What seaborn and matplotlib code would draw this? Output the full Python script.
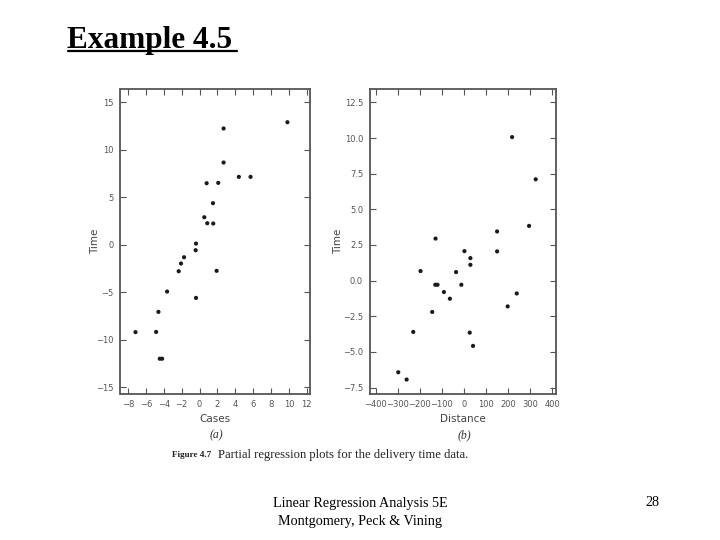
import matplotlib
matplotlib.use("Agg")
import matplotlib.pyplot as plt
import seaborn as sns
import pandas as pd
from matplotlib.lines import Line2D

sns.set_theme(style="white")
plt.rcParams['font.family'] = ['DejaVu Sans']

# Panel (a): partial regression of Time on Cases
cases_x = [-7.18, -4.87, -4.61, -4.46, -4.20, -3.64, -2.34, -2.08, -1.74, -0.40,
           -0.44, -0.40, 0.53, 0.86, 1.53, 1.50, 0.79, 2.09, 1.91, 2.69,
           2.69, 4.40, 5.71, 9.84]
cases_y = [-9.20, -9.18, -7.07, -12.0, -12.0, -4.93, -2.79, -1.98, -1.32, 0.12,
           -0.58, -5.60, 2.89, 2.26, 2.23, 4.37, 6.47, 6.51, -2.75, 8.65,
           12.23, 7.14, 7.14, 12.89]

# Panel (b): partial regression of Time on Distance
dist_x = [-298, -260, -230, -197, -144, -129, -130, -120, -91, -64,
          -36, -12, 2, 29, 29, 26, 41, 150, 150, 198,
          239, 218, 295, 325]
dist_y = [-6.43, -6.94, -3.60, 0.67, -2.20, 2.95, -0.29, -0.29, -0.80, -1.27,
          0.60, -0.29, 2.07, 1.58, 1.11, -3.65, -4.58, 3.45, 2.05, -1.81,
          -0.90, 10.07, 3.84, 7.11]

cases_ticks_x = [-8, -6, -4, -2, 0, 2, 4, 6, 8, 10, 12]
cases_ticks_y = [-15, -10, -5, 0, 5, 10, 15]
dist_ticks_x = [-400, -300, -200, -100, 0, 100, 200, 300, 400]
dist_ticks_y = [-7.5, -5.0, -2.5, 0.0, 2.5, 5.0, 7.5, 10.0, 12.5]

df_a = pd.DataFrame({"Cases": cases_x, "Time": cases_y})
df_b = pd.DataFrame({"Distance": dist_x, "Time": dist_y})

fig = plt.figure(figsize=(7.2, 5.4), dpi=100)
fig.patch.set_facecolor("white")

ax1 = fig.add_axes([120.5 / 720, 1 - 393.5 / 540, 189.5 / 720, 305 / 540])
ax2 = fig.add_axes([370 / 720, 1 - 393.5 / 540, 186 / 720, 305 / 540])

sns.scatterplot(data=df_a, x="Cases", y="Time", ax=ax1, color="#1a1a1a",
                s=9, edgecolor="none", legend=False)
sns.scatterplot(data=df_b, x="Distance", y="Time", ax=ax2, color="#1a1a1a",
                s=9, edgecolor="none", legend=False)

ax1.set_xlim(-8.86, 12.37)
ax1.set_ylim(-15.66, 16.44)
ax1.set_xticks(cases_ticks_x)
ax1.set_yticks(cases_ticks_y)
ax1.set_yticklabels([str(v).replace("-", "\u2212") for v in cases_ticks_y])
ax1.set_xticklabels([str(v).replace("-", "\u2212") for v in cases_ticks_x])

ax2.set_xlim(-426, 417)
ax2.set_ylim(-7.92, 13.48)
ax2.set_xticks(dist_ticks_x)
ax2.set_yticks(dist_ticks_y)
ax2.set_xticklabels([str(v).replace("-", "\u2212") for v in dist_ticks_x])
ax2.set_yticklabels([f"{v:.1f}".replace("-", "\u2212") for v in dist_ticks_y])

for ax, xl in ((ax1, "Cases"), (ax2, "Distance")):
    for sp in ax.spines.values():
        sp.set_visible(True)
        sp.set_color("#555555")
        sp.set_linewidth(1.3)
    ax.tick_params(direction="in", top=True, right=True, bottom=True, left=True,
                   length=4, width=0.8, color="#555555", labelsize=6,
                   labelcolor="#555555", pad=5)
    ax.set_xlabel(xl, fontsize=7.5, color="#444444", labelpad=3)
    ax.set_facecolor("white")

ax1.set_ylabel("Time", fontsize=7.5, color="#444444", labelpad=-3)
ax2.set_ylabel("Time", fontsize=7.5, color="#444444", labelpad=0)

# Title
fig.text(67 / 720, 1 - 48 / 540, "Example 4.5", fontsize=22.5, fontweight="bold",
         family="Liberation Serif", ha="left", va="baseline", color="black")
fig.add_artist(Line2D([68 / 720, 237 / 720], [1 - 51 / 540, 1 - 51 / 540],
                      color="black", linewidth=1.6))

# Panel letters and caption
fig.text(216 / 720, 1 - 435 / 540, "(a)", fontsize=8.5, style="italic",
         family="Liberation Serif", ha="center", va="center", color="#333333")
fig.text(464 / 720, 1 - 435 / 540, "(b)", fontsize=8.5, style="italic",
         family="Liberation Serif", ha="center", va="center", color="#333333")
fig.text(172 / 720, 1 - 455 / 540, "Figure 4.7", fontsize=6.6, fontweight="bold",
         family="Liberation Serif", ha="left", va="center", color="#222222")
fig.text(218 / 720, 1 - 455 / 540, "Partial regression plots for the delivery time data.",
         fontsize=9.1, family="Liberation Serif", ha="left", va="center", color="#222222")

# Footer
fig.text(360 / 720, 1 - 503 / 540, "Linear Regression Analysis 5E", fontsize=10.2,
         family="Liberation Serif", ha="center", va="center", color="black")
fig.text(360 / 720, 1 - 521 / 540, "Montgomery, Peck & Vining", fontsize=10.2,
         family="Liberation Serif", ha="center", va="center", color="black")
fig.text(652 / 720, 1 - 503 / 540, "28", fontsize=10.2,
         family="Liberation Serif", ha="center", va="center", color="black")

fig.savefig("out.png", dpi=100, facecolor="white")
